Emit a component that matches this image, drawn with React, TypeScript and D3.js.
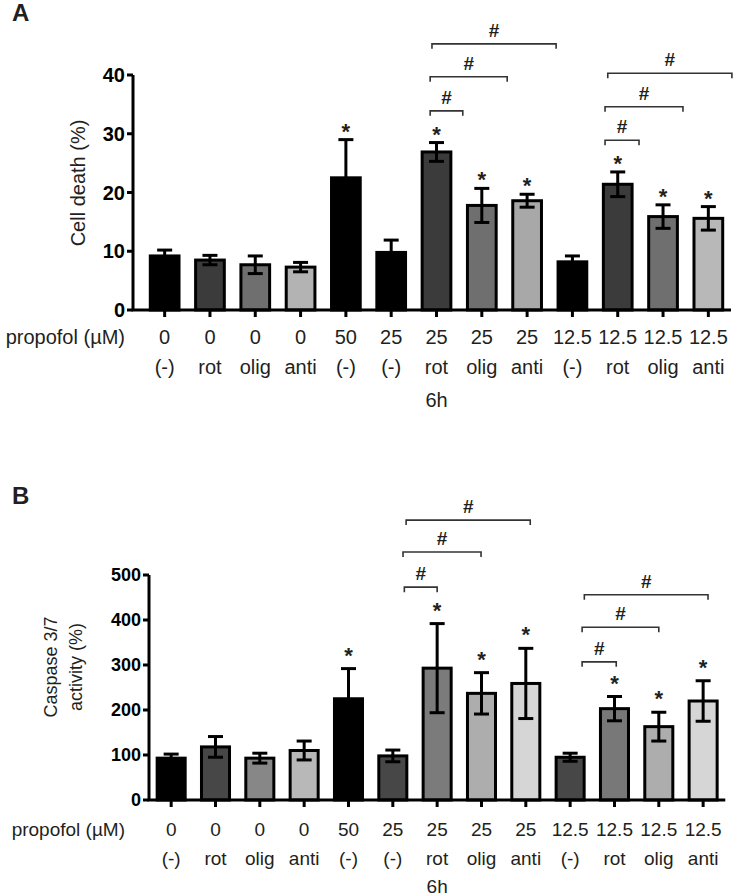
import React from "react";
import * as d3 from "d3";

// ---------- data ----------
const concentrations = ["0", "0", "0", "0", "50", "25", "25", "25", "25", "12.5", "12.5", "12.5", "12.5"];
const treatments = ["(-)", "rot", "olig", "anti", "(-)", "(-)", "rot", "olig", "anti", "(-)", "rot", "olig", "anti"];

const cellDeath = [9.2, 8.5, 7.7, 7.3, 22.5, 9.8, 26.9, 17.8, 18.6, 8.2, 21.4, 15.9, 15.6];
const cellDeathErr = [1.0, 0.8, 1.5, 0.8, 6.5, 2.1, 1.6, 2.9, 1.1, 1.0, 2.1, 2.0, 2.0];
const cellDeathStar = [false, false, false, false, true, false, true, true, true, false, true, true, true];
const cellDeathColors = ["#000000", "#3b3b3b", "#6f6f6f", "#b3b3b3", "#000000", "#000000", "#3b3b3b", "#6f6f6f", "#a8a8a8", "#000000", "#3b3b3b", "#6f6f6f", "#b8b8b8"];
const cellDeathTicks = [0, 10, 20, 30, 40];
// brackets: [from index, to index, height in data units]
const cellDeathBrackets: [number, number, number][] = [
  [5.86, 6.58, 33.9],
  [5.86, 7.56, 39.7],
  [5.9, 8.64, 45.3],
  [9.72, 10.47, 28.9],
  [9.72, 11.44, 34.6],
  [9.78, 12.52, 40.3],
];

const caspase = [93, 118, 93, 110, 225, 98, 293, 237, 259, 95, 203, 163, 220];
const caspaseErr = [9, 23, 11, 21, 67, 13, 99, 46, 78, 9, 27, 32, 45];
const caspaseStar = [false, false, false, false, true, false, true, true, true, false, true, true, true];
const caspaseColors = ["#000000", "#474747", "#878787", "#b8b8b8", "#000000", "#474747", "#7b7b7b", "#adadad", "#d6d6d6", "#474747", "#787878", "#adadad", "#d6d6d6"];
const caspaseTicks = [0, 100, 200, 300, 400, 500];
const caspaseBrackets: [number, number, number][] = [
  [5.26, 6.0, 473],
  [5.23, 6.99, 551],
  [5.3, 8.1, 622],
  [9.27, 10.04, 307],
  [9.27, 11.0, 384],
  [9.32, 12.11, 456],
];

const FONT = "'Liberation Sans', Arial, Helvetica, sans-serif";

type PanelProps = {
  letter: string;
  letterY: number;
  values: number[];
  errors: number[];
  stars: boolean[];
  colors: string[];
  ticks: number[];
  brackets: [number, number, number][];
  yLabel: string[];
  yLabelX: number[];
  yLabelCY: number;
  yLabelSize: number;
  axisX: number;
  bandRange: [number, number];
  yRange: [number, number];
  rowBaselines: [number, number, number];
  xFont: number;
  tickFont: number;
  starGap: number;
};

function Panel(p: PanelProps) {
  const idx = p.values.map((_, i) => String(i));
  const x = d3.scaleBand<string>().domain(idx).range(p.bandRange).paddingInner(0.3).paddingOuter(0.15);
  const bw = x.bandwidth();
  const cx = (i: number) => (x(String(i)) as number) + bw / 2;
  const xi = d3
    .scaleLinear()
    .domain([0, p.values.length - 1])
    .range([cx(0), cx(p.values.length - 1)]);
  const yMax = p.ticks[p.ticks.length - 1];
  const y = d3.scaleLinear().domain([0, yMax]).range(p.yRange);
  const y0 = y(0);
  const axisEnd = p.bandRange[1];
  const capW = 15;

  return (
    <g fontFamily={FONT}>
      <text x={12} y={p.letterY} fontSize={24} fontWeight="bold" fill="#231f20">
        {p.letter}
      </text>
      {/* y label */}
      {p.yLabel.map((t, k) => (
        <text
          key={k}
          transform={`translate(${p.yLabelX[k]},${p.yLabelCY}) rotate(-90)`}
          textAnchor="middle"
          dominantBaseline="central"
          fontSize={p.yLabelSize}
          fill="#231f20"
        >
          {t}
        </text>
      ))}
      {/* bars */}
      {p.values.map((v, i) => (
        <rect
          key={"b" + i}
          x={(x(String(i)) as number) + 1.5}
          y={y(v)}
          width={bw - 3}
          height={y0 - y(v)}
          fill={p.colors[i]}
          stroke="#000"
          strokeWidth={3}
        />
      ))}
      {/* error bars */}
      {p.values.map((v, i) => {
        const c = cx(i);
        const hi = y(v + p.errors[i]);
        const lo = y(v - p.errors[i]);
        return (
          <g key={"e" + i} stroke="#000" strokeWidth={3}>
            <line x1={c} x2={c} y1={hi} y2={lo} />
            <line x1={c - capW / 2} x2={c + capW / 2} y1={hi} y2={hi} />
            <line x1={c - capW / 2} x2={c + capW / 2} y1={lo} y2={lo} />
          </g>
        );
      })}
      {/* stars */}
      {p.values.map((v, i) =>
        p.stars[i] ? (
          <text
            key={"s" + i}
            x={cx(i)}
            y={y(v + p.errors[i]) - p.starGap + 11}
            textAnchor="middle"
            fontSize={22}
            fontWeight="bold"
            fill="#231f20"
          >
            *
          </text>
        ) : null
      )}
      {/* brackets */}
      {p.brackets.map(([a, b, h], k) => {
        const x1 = xi(a);
        const x2 = xi(b);
        const yy = y(h);
        return (
          <g key={"br" + k}>
            <path
              d={`M${x1},${yy + 5}V${yy}H${x2}V${yy + 5}`}
              fill="none"
              stroke="#333"
              strokeWidth={1.6}
            />
            <text
              x={(x1 + x2) / 2}
              y={yy - 7}
              textAnchor="middle"
              fontSize={19}
              fontWeight="bold"
              fill="#231f20"
            >
              #
            </text>
          </g>
        );
      })}
      {/* axes */}
      <path
        d={`M${p.axisX},${y(yMax)}V${y0}H${axisEnd}`}
        fill="none"
        stroke="#000"
        strokeWidth={3}
      />
      {p.ticks.map((t) => (
        <g key={"t" + t}>
          <line x1={p.axisX - 6} x2={p.axisX} y1={y(t)} y2={y(t)} stroke="#000" strokeWidth={3} />
          <text
            x={p.axisX - 8}
            y={y(t) + p.tickFont * 0.36}
            textAnchor="end"
            fontSize={p.tickFont}
            fontWeight="bold"
            fill="#000"
          >
            {t}
          </text>
        </g>
      ))}
      {p.values.map((_, i) => (
        <line key={"xt" + i} x1={cx(i)} x2={cx(i)} y1={y0} y2={y0 + 7} stroke="#000" strokeWidth={3} />
      ))}
      {/* x labels */}
      <text x={125} y={p.rowBaselines[0]} textAnchor="end" fontSize={p.xFont} fill="#231f20">
        propofol (µM)
      </text>
      {concentrations.map((c, i) => (
        <text key={"c" + i} x={cx(i)} y={p.rowBaselines[0]} textAnchor="middle" fontSize={p.xFont} fill="#231f20">
          {c}
        </text>
      ))}
      {treatments.map((c, i) => (
        <text key={"tr" + i} x={cx(i)} y={p.rowBaselines[1]} textAnchor="middle" fontSize={p.xFont} fill="#231f20">
          {c}
        </text>
      ))}
      <text x={cx(6)} y={p.rowBaselines[2]} textAnchor="middle" fontSize={p.xFont} fill="#231f20">
        6h
      </text>
    </g>
  );
}

export default function App() {
  return (
    <svg
      width={740}
      height={896}
      viewBox="0 0 740 896"
      style={{ position: "absolute", left: 0, top: 0, background: "#fff" }}
    >
      <rect width={740} height={896} fill="#fff" />
      <Panel
        letter="A"
        letterY={21}
        values={cellDeath}
        errors={cellDeathErr}
        stars={cellDeathStar}
        colors={cellDeathColors}
        ticks={cellDeathTicks}
        brackets={cellDeathBrackets}
        yLabel={["Cell death (%)"]}
        yLabelX={[78]}
        yLabelCY={183}
        yLabelSize={20}
        axisX={133}
        bandRange={[142, 731]}
        yRange={[310, 75]}
        rowBaselines={[344, 374, 407]}
        xFont={20}
        tickFont={20}
        starGap={12}
      />
      <Panel
        letter="B"
        letterY={504}
        values={caspase}
        errors={caspaseErr}
        stars={caspaseStar}
        colors={caspaseColors}
        ticks={caspaseTicks}
        brackets={caspaseBrackets}
        yLabel={["Caspase 3/7", "activity (%)"]}
        yLabelX={[51, 76]}
        yLabelCY={667}
        yLabelSize={18}
        axisX={149}
        bandRange={[149, 725.3]}
        yRange={[800, 575]}
        rowBaselines={[836, 865, 893]}
        xFont={19}
        tickFont={18}
        starGap={17}
      />
    </svg>
  );
}
